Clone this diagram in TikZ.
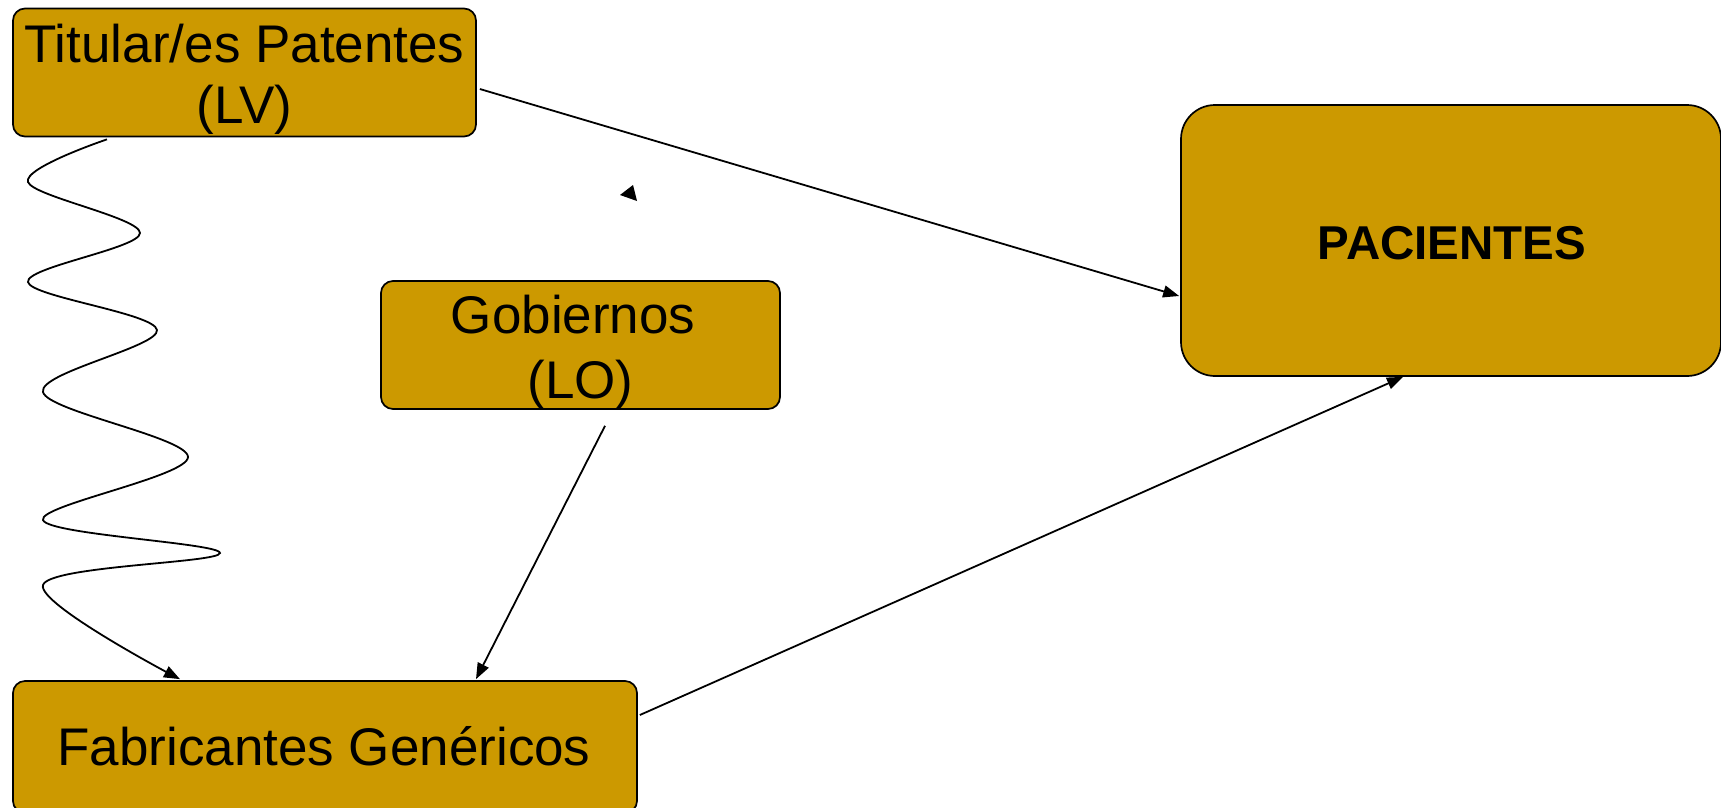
\documentclass[tikz,border=0pt]{standalone}
\usepackage{fontspec}
\setmainfont{Liberation Sans}
\usetikzlibrary{arrows.meta,calc}
\definecolor{gold}{RGB}{204,153,0}
\begin{document}
\begin{tikzpicture}[x=1pt,y=-1pt,
  box/.style={draw=black,line width=1.7pt,fill=gold,rectangle,rounded corners=12pt,inner sep=0pt},
  lbl/.style={inner sep=0pt,anchor=base,font=\fontsize{53}{60}\selectfont},
  conn/.style={line width=1.8pt,-{Triangle[length=16pt,width=12pt]}}]
\useasboundingbox (0,0) rectangle (1721,807);
\clip (0,0) rectangle (1721,807);
\fill[white] (0,0) rectangle (1721,807);
% boxes
\node[box,minimum width=463pt,minimum height=128pt] (tit) at (244.5,72.5) {};
\node[box,minimum width=399pt,minimum height=128pt] (gob) at (580.5,345) {};
\node[box,rounded corners=34pt,minimum width=540pt,minimum height=271pt] (pac) at (1451,240.5) {};
\node[box,minimum width=624pt,minimum height=132pt] (fab) at (325,747) {};
% texts
\node[lbl] (tit1) at (244.5,62) {Titular/es Patentes};
\node[lbl] (tit2) at (244.5,123) {(LV)};
\node[lbl] (gob1) at (580.5,333) {Gobiernos\phantom{ }};
\node[lbl] (gob2) at (580.5,398) {(LO)};
\node[lbl,font=\fontsize{47.5}{54}\selectfont\bfseries] (pac1) at (1452,259) {PACIENTES};
\node[lbl] (fab1) at (324,765) {Fabricantes Genéricos};
% connectors
\draw[conn] ($(tit.east)+(3,16.5)$) -- ($(pac.west)+(-1,55.5)$);
\draw[conn] ($(gob.south)+(24.5,16)$) -- ($(fab.north)+(151,-1)$);
\draw[conn] ($(fab.east)+(2,-32)$) -- ($(pac.south)+(-48,0)$);
\draw[conn] plot[smooth,tension=0.55] coordinates {
  ($(tit.south)+(-137.5,2)$) (28,182) (140,233) (28,282) (157,330) (43,392)
  (188,457) (43,520) (220,553) (43,585) ($(fab.north)+(-145,-1)$)};
% stray arrowhead
\fill[black] (620,195) -- (633,185) -- (637,201) -- cycle;
\end{tikzpicture}
\end{document}
